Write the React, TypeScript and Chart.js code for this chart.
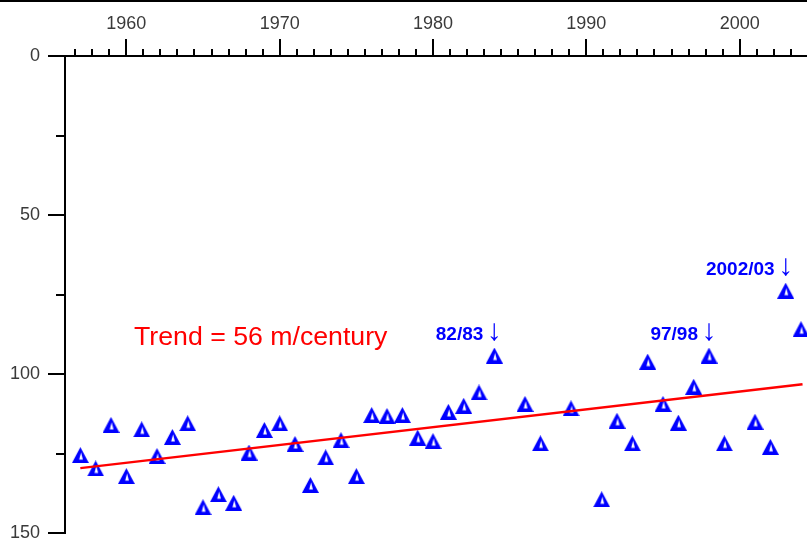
import { useEffect, useRef } from 'react';
import { Chart, registerables } from 'chart.js';

Chart.register(...registerables);

// Annual values (m), one per season year
const years = [
  1957, 1958, 1959, 1960, 1961, 1962, 1963, 1964, 1965, 1966,
  1967, 1968, 1969, 1970, 1971, 1972, 1973, 1974, 1975, 1976,
  1977, 1978, 1979, 1980, 1981, 1982, 1983, 1984, 1986, 1987,
  1989, 1991, 1992, 1993, 1994, 1995, 1996, 1997, 1998, 1999,
  2001, 2002, 2003, 2004,
];
const values = [
  125.5, 129.7, 116.0, 132.1, 117.4, 125.8, 119.8, 115.5, 141.9, 137.8,
  140.5, 124.7, 117.6, 115.5, 122.0, 134.9, 126.2, 120.8, 132.1, 112.9,
  113.2, 112.9, 120.0, 121.1, 111.9, 110.0, 105.8, 94.2, 109.4, 121.8,
  110.8, 139.4, 114.7, 121.8, 96.1, 109.4, 115.3, 104.0, 94.2, 121.8,
  115.0, 122.9, 73.8, 85.9,
];

// Linear trend, stated in m per century
const trendRate = 56;
const trendStartYear = 1957;
const trendEndYear = 2004.1;
const trendStartValue = 129.6;
const trendLabel = `Trend = ${trendRate} m/century`;
const trendLabelYear = 1960.5;
const trendLabelValue = 90.9;

// Highlighted seasons
const eventLabels = ['82/83', '97/98', '2002/03'];
const eventYears = [1984, 1998, 2003];

// Axes
const xMin = 1956;
const xMax = 2005.5;
const xTickYears = [1960, 1970, 1980, 1990, 2000];
const xMinorStep = 10 / 9;
const yMin = 0;
const yMax = 150;
const yTickValues = [0, 50, 100, 150];
const yMinorValues = [25, 75, 125];

const BLUE = '#0000ff';
const RED = '#ff0000';
const FONT = '"Liberation Sans", Arial, sans-serif';

function makeMarker(): HTMLCanvasElement {
  const c = document.createElement('canvas');
  c.width = 17;
  c.height = 16;
  const g = c.getContext('2d')!;
  g.fillStyle = BLUE;
  g.beginPath();
  g.moveTo(0, 16);
  g.lineTo(8.5, 0);
  g.lineTo(17, 16);
  g.closePath();
  g.fill();
  g.fillStyle = '#ffffff';
  g.beginPath();
  g.moveTo(9.2, 5.2);
  g.lineTo(7.3, 12.4);
  g.lineTo(11.0, 12.4);
  g.closePath();
  g.fill();
  return c;
}

// Tick marks of two lengths, the top frame rule and the text labels
const overlayPlugin = {
  id: 'overlay',
  afterDraw(chart: any) {
    const { ctx, chartArea, scales } = chart;
    const xs = scales.x;
    const ys = scales.y;
    ctx.save();
    ctx.fillStyle = '#000';
    ctx.fillRect(0, 0, chart.width, 2);

    ctx.strokeStyle = '#000';
    ctx.lineWidth = 2;
    ctx.beginPath();
    const left = Math.round(chartArea.left);
    const top = Math.round(chartArea.top);
    for (const v of yTickValues) {
      const py = Math.round(ys.getPixelForValue(v));
      ctx.moveTo(left - 17, py);
      ctx.lineTo(left, py);
    }
    for (const v of yMinorValues) {
      const py = Math.round(ys.getPixelForValue(v));
      ctx.moveTo(left - 9, py);
      ctx.lineTo(left, py);
    }
    for (const yr of xTickYears) {
      const px = Math.round(xs.getPixelForValue(yr));
      ctx.moveTo(px, top - 17);
      ctx.lineTo(px, top);
    }
    const first = xTickYears[0];
    for (let k = -20; k < 60; k++) {
      if (k % 9 === 0) continue;
      const yr = first + k * xMinorStep;
      if (yr <= xMin || yr > xMax) continue;
      const px = Math.round(xs.getPixelForValue(yr));
      ctx.moveTo(px, top - 7);
      ctx.lineTo(px, top);
    }
    ctx.stroke();

    // trend caption
    ctx.fillStyle = RED;
    ctx.font = `26.7px ${FONT}`;
    ctx.textAlign = 'left';
    ctx.textBaseline = 'alphabetic';
    ctx.fillText(trendLabel, xs.getPixelForValue(trendLabelYear), ys.getPixelForValue(trendLabelValue));

    // season callouts
    eventLabels.forEach((label, i) => {
      const yr = eventYears[i];
      const idx = years.indexOf(yr);
      const px = xs.getPixelForValue(yr);
      const py = ys.getPixelForValue(values[idx]) - 16;
      ctx.fillStyle = BLUE;
      ctx.font = `bold 19px ${FONT}`;
      ctx.textAlign = 'right';
      ctx.fillText(label, px - 11, py);
      ctx.font = `30px ${FONT}`;
      ctx.textAlign = 'center';
      ctx.fillText('\u2193', px, py);
    });
    ctx.restore();
  },
};

export default function App() {
  const canvasRef = useRef<HTMLCanvasElement | null>(null);

  useEffect(() => {
    const canvas = canvasRef.current;
    if (!canvas) return;
    const marker = makeMarker();
    const trendEndValue = trendStartValue - (trendRate / 100) * (trendEndYear - trendStartYear);

    const chart = new Chart(canvas, {
      type: 'scatter',
      data: {
        datasets: [
          {
            label: 'Trend',
            data: [
              { x: trendStartYear, y: trendStartValue },
              { x: trendEndYear, y: trendEndValue },
            ],
            showLine: true,
            borderColor: RED,
            borderWidth: 2.5,
            pointRadius: 0,
            order: 0,
          },
          {
            label: 'Annual',
            data: years.map((yr, i) => ({ x: yr, y: values[i] })),
            pointStyle: marker,
            pointRadius: 8,
            backgroundColor: BLUE,
            borderColor: BLUE,
            order: 1,
          },
        ],
      },
      options: {
        animation: false,
        responsive: false,
        devicePixelRatio: 1,
        layout: { autoPadding: false, padding: { top: 0, left: 0, right: 0, bottom: 23 } },
        plugins: {
          legend: { display: false },
          tooltip: { enabled: false },
        },
        scales: {
          x: {
            type: 'linear',
            position: 'top',
            min: xMin,
            max: xMax,
            afterBuildTicks: (scale: any) => {
              scale.ticks = xTickYears.map((v) => ({ value: v }));
            },
            afterFit: (scale: any) => {
              scale.height = 56;
              scale.paddingLeft = 0;
              scale.paddingRight = 0;
            },
            grid: {
              display: true,
              drawOnChartArea: false,
              drawTicks: true,
              tickLength: 17,
              tickColor: 'rgba(0,0,0,0)',
            },
            border: { display: true, color: '#000', width: 2 },
            ticks: {
              padding: 4,
              color: '#3a3a3a',
              font: { family: FONT, size: 18 },
              maxRotation: 0,
              callback: (v: any) => String(v),
            },
          },
          y: {
            type: 'linear',
            reverse: true,
            min: yMin,
            max: yMax,
            afterBuildTicks: (scale: any) => {
              scale.ticks = yTickValues.map((v) => ({ value: v }));
            },
            afterFit: (scale: any) => {
              scale.width = 65;
              scale.paddingTop = 0;
              scale.paddingBottom = 0;
            },
            grid: {
              display: true,
              drawOnChartArea: false,
              drawTicks: true,
              tickLength: 17,
              tickColor: 'rgba(0,0,0,0)',
            },
            border: { display: true, color: '#000', width: 2 },
            ticks: {
              padding: 8,
              color: '#3a3a3a',
              font: { family: FONT, size: 18 },
              callback: (v: any) => String(v),
            },
          },
        },
      },
      plugins: [overlayPlugin],
    });

    return () => chart.destroy();
  }, []);

  return (
    <div
      style={{
        position: 'fixed',
        left: 0,
        top: 0,
        width: 807,
        height: 540,
        overflow: 'hidden',
        background: '#ffffff',
      }}
    >
      <canvas
        ref={canvasRef}
        width={824}
        height={556}
        style={{ display: 'block', width: 824, height: 556 }}
      />
    </div>
  );
}
